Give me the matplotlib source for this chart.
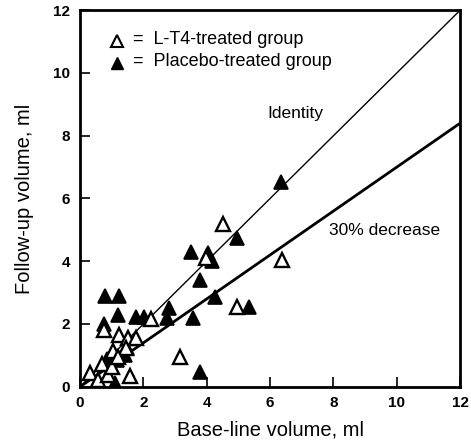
import matplotlib
matplotlib.use("Agg")
import matplotlib.pyplot as plt
import numpy as np

plt.rcParams['font.family'] = ['Liberation Sans', 'DejaVu Sans']

# L-T4-treated group (open triangles)
lt4_x = [0.32, 0.58, 0.88, 0.68, 1.00, 1.03, 0.76, 1.23, 1.50, 1.78, 1.45, 1.58, 2.23, 3.15, 3.99, 4.52, 4.97, 6.36, 1.20]
lt4_y = [0.45, 0.20, 0.37, 0.72, 0.64, 1.15, 1.80, 1.65, 1.54, 1.55, 1.25, 0.34, 2.15, 0.96, 4.10, 5.19, 2.55, 4.04, 0.95]

# Placebo-treated group (filled triangles)
plc_x = [0.80, 1.24, 1.21, 0.77, 1.76, 2.02, 0.84, 1.16, 1.42, 1.47, 1.10, 0.55, 2.80, 2.75, 3.55, 3.80, 3.50, 4.05, 4.15, 4.25, 5.34, 3.79, 4.94, 6.33]
plc_y = [2.89, 2.89, 2.29, 1.99, 2.23, 2.21, 0.87, 0.85, 1.00, 1.22, 0.13, 0.10, 2.50, 2.20, 2.20, 3.40, 4.30, 4.25, 4.00, 2.85, 2.55, 0.46, 4.73, 6.54]

x_ticks = [0, 2, 4, 6, 8, 10, 12]
y_ticks = [0, 2, 4, 6, 8, 10, 12]
line_x = [0, 12]
identity_slope = 1.0
decrease_slope = 0.7

fig = plt.figure(figsize=(4.71, 4.43), dpi=100)
ax = fig.add_axes([0.170, 0.127, 0.807, 0.850])

ax.plot(line_x, [v * identity_slope for v in line_x], color='black', lw=1.0, zorder=1)
ax.plot(line_x, [v * decrease_slope for v in line_x], color='black', lw=2.0, zorder=1)

ax.plot(plc_x, plc_y, linestyle='none', marker='^', ms=10, mfc='black', mec='black', mew=1.2, zorder=3)
ax.plot(lt4_x, lt4_y, linestyle='none', marker='^', ms=10, mfc='white', mec='black', mew=1.7, zorder=4)

ax.set_xlim(0, 12)
ax.set_ylim(0, 12)
ax.set_xticks(x_ticks)
ax.set_yticks(y_ticks)
ax.tick_params(direction='in', length=7, width=1.2, labelsize=11, top=False, right=False, pad=7)
for lab in ax.get_xticklabels() + ax.get_yticklabels():
    lab.set_fontweight('bold')
for sp in ax.spines.values():
    sp.set_linewidth(2.0)

ax.set_xlabel('Base-line volume, ml', fontsize=14.5, labelpad=7)
ax.set_ylabel('Follow-up volume, ml', fontsize=14.5, labelpad=14)

ax.text(6.8, 8.7, 'Identity', fontsize=12.5, ha='center', va='center')
ax.text(9.6, 4.98, '30% decrease', fontsize=12.5, ha='center', va='center')

# legend as text
ax.plot([1.17], [11.02], linestyle='none', marker='^', ms=8, mfc='white', mec='black', mew=1.5)
ax.plot([1.17], [10.32], linestyle='none', marker='^', ms=8, mfc='black', mec='black')
ax.text(1.68, 11.07, '=  L-T4-treated group', fontsize=13, ha='left', va='center')
ax.text(1.68, 10.36, '=  Placebo-treated group', fontsize=13, ha='left', va='center')

fig.savefig('out.png', dpi=100)
